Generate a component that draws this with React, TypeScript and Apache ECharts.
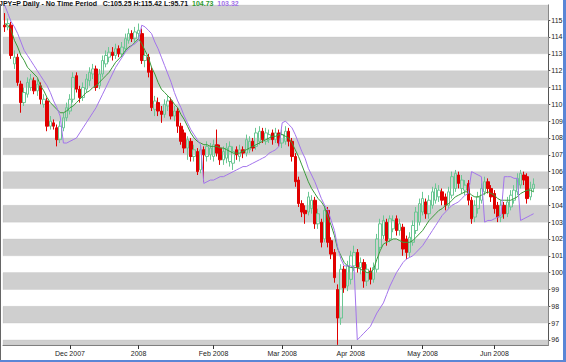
import React, { useEffect, useRef } from "react";
import * as echarts from "echarts";

// ---- data -------------------------------------------------------------
const startDate = "2007-11-05"; // first trading day shown
const categoryCount = 167; // trading-day slots on the axis (last few empty)

// [open, close, low, high]
const candles: number[][] = [
  [114.7, 114.6, 114.3, 115.42], [114.6, 114.8, 114.4, 115.1], [114.7, 112.9, 112.7, 114.9], [112.4, 112.8, 112.1, 113.2], [112.8, 111.3, 111.1, 113.0],
  [111.2, 110.1, 109.5, 111.4], [110.1, 110.7, 109.9, 111.0], [110.6, 111.3, 110.4, 111.6], [111.0, 111.5, 110.8, 111.8], [111.4, 110.8, 110.6, 111.6],
  [110.8, 111.2, 110.5, 111.5], [111.1, 110.3, 110.0, 111.3], [110.0, 110.3, 109.8, 110.6], [110.2, 108.7, 108.4, 110.4], [108.7, 109.0, 108.5, 109.3],
  [108.9, 108.7, 108.5, 109.1], [108.6, 107.9, 107.5, 108.8], [107.9, 108.7, 107.7, 109.0], [108.6, 109.2, 108.4, 109.5], [109.2, 109.8, 109.0, 110.1],
  [109.6, 110.3, 109.4, 110.6], [110.3, 111.6, 110.1, 111.9], [111.7, 110.9, 110.7, 111.9], [110.9, 110.4, 110.1, 111.1], [110.4, 111.0, 110.2, 111.3],
  [110.9, 111.5, 110.7, 111.8], [111.4, 111.9, 111.1, 112.2], [111.8, 112.1, 111.5, 112.4], [112.1, 111.0, 110.8, 112.3], [111.1, 111.8, 110.9, 112.1],
  [111.8, 112.6, 111.6, 112.9], [112.4, 112.9, 112.2, 113.2], [112.8, 113.1, 112.5, 113.4], [113.1, 112.9, 112.6, 113.4], [112.9, 113.3, 112.7, 113.6],
  [113.3, 113.0, 112.8, 113.5], [113.0, 113.4, 112.8, 113.7], [113.3, 113.9, 113.1, 114.2], [113.8, 114.2, 113.6, 114.5], [114.2, 113.9, 113.7, 114.4],
  [113.9, 114.3, 113.7, 114.6], [114.2, 114.4, 113.9, 114.8], [114.2, 112.6, 112.4, 114.5], [112.6, 112.9, 112.2, 113.2], [112.8, 111.9, 111.6, 113.0],
  [112.0, 109.8, 109.6, 112.2], [109.7, 110.2, 109.3, 110.5], [110.1, 109.6, 109.3, 110.4], [109.6, 109.4, 108.9, 109.9], [109.4, 110.0, 109.2, 110.3],
  [109.9, 110.2, 109.6, 110.5], [110.2, 109.3, 109.1, 110.4], [109.3, 109.6, 109.0, 109.9], [109.6, 108.7, 108.3, 109.8], [108.7, 107.8, 107.6, 108.9],
  [108.3, 107.4, 107.1, 108.5], [107.4, 107.9, 106.7, 108.1], [107.8, 106.9, 106.6, 108.0], [106.9, 107.3, 106.6, 107.6], [107.2, 106.0, 105.8, 107.4],
  [106.1, 107.3, 105.9, 107.6], [107.3, 107.0, 105.4, 107.5], [106.9, 107.5, 106.6, 107.8], [107.0, 107.4, 106.7, 107.7], [106.9, 107.6, 106.6, 107.9],
  [107.6, 107.1, 106.9, 108.5], [107.4, 106.7, 106.4, 107.6], [106.7, 107.2, 106.4, 107.5], [106.8, 107.4, 106.5, 107.7], [106.6, 107.5, 106.3, 107.8],
  [106.5, 107.2, 106.1, 107.5], [107.3, 107.0, 106.7, 107.5], [106.9, 107.3, 106.6, 107.6], [107.3, 107.1, 106.8, 107.5], [107.1, 107.9, 106.9, 108.2],
  [107.3, 107.8, 107.1, 108.1], [107.8, 107.4, 107.2, 108.0], [107.5, 108.3, 107.3, 108.6], [107.8, 108.4, 107.6, 108.7], [108.4, 107.9, 107.7, 108.6],
  [107.8, 108.3, 107.6, 108.6], [107.9, 108.2, 107.7, 108.5], [108.3, 107.9, 107.6, 108.5], [107.9, 108.3, 107.7, 108.6], [108.3, 107.7, 107.5, 108.5],
  [107.7, 108.2, 107.4, 108.5], [107.8, 108.4, 107.6, 108.7], [108.4, 107.8, 107.5, 108.6], [107.8, 106.9, 106.6, 108.0], [106.9, 105.4, 105.1, 107.1],
  [105.5, 104.1, 103.9, 105.7], [104.1, 103.6, 103.3, 104.3], [103.7, 103.5, 102.9, 104.0], [103.6, 104.5, 103.4, 104.8], [103.8, 104.3, 103.5, 104.6],
  [104.3, 102.9, 102.6, 104.5], [102.9, 103.5, 102.6, 103.8], [103.0, 101.8, 101.5, 103.2], [102.0, 103.7, 101.8, 104.0], [103.7, 101.8, 101.5, 103.9],
  [101.9, 101.1, 100.8, 102.1], [101.2, 99.7, 99.4, 101.4], [99.0, 97.3, 95.71, 99.3], [97.3, 100.2, 96.9, 100.5], [100.2, 99.1, 98.8, 100.4],
  [99.2, 100.4, 98.9, 100.7], [99.6, 101.0, 99.3, 101.3], [100.4, 101.2, 100.1, 101.6], [101.2, 100.3, 100.0, 101.4], [100.3, 100.6, 99.9, 100.9],
  [100.6, 99.5, 99.1, 100.8], [99.5, 100.2, 99.2, 100.5], [100.1, 99.6, 99.3, 100.3], [99.6, 100.3, 99.4, 100.6], [100.2, 102.0, 100.0, 102.3],
  [101.5, 102.9, 101.3, 103.2], [102.2, 103.1, 102.0, 103.4], [103.0, 101.9, 101.6, 103.2], [102.0, 103.2, 101.8, 103.4], [102.6, 103.1, 102.4, 103.4],
  [103.2, 102.5, 102.2, 103.4], [102.5, 102.9, 102.2, 103.2], [102.7, 101.4, 101.0, 102.9], [102.0, 101.2, 100.8, 102.2], [101.2, 102.1, 100.9, 102.4],
  [101.8, 102.8, 101.6, 103.1], [102.5, 103.6, 102.3, 103.9], [103.0, 104.1, 102.8, 104.4], [103.6, 104.4, 103.4, 104.8], [104.2, 103.5, 103.2, 104.4],
  [103.5, 104.3, 103.2, 104.6], [104.0, 104.8, 103.8, 105.1], [104.3, 105.0, 104.1, 105.3], [104.5, 104.9, 104.2, 105.2], [104.8, 104.3, 104.0, 105.0],
  [104.5, 104.0, 103.7, 104.7], [104.0, 104.8, 103.8, 105.1], [104.6, 105.7, 104.4, 106.0], [105.0, 105.9, 104.8, 106.1], [105.8, 105.3, 105.0, 106.0],
  [105.0, 105.5, 104.7, 105.8], [104.9, 105.2, 104.6, 105.5], [105.3, 104.3, 104.0, 105.5], [104.3, 103.2, 102.9, 104.5], [103.3, 104.0, 103.0, 104.3],
  [103.8, 104.5, 103.5, 104.8], [104.3, 105.0, 104.1, 105.3], [104.8, 105.4, 104.6, 105.7], [105.4, 105.0, 104.7, 105.6], [105.0, 104.5, 104.2, 105.2],
  [104.7, 103.8, 103.5, 104.9], [104.0, 103.3, 103.0, 104.2], [103.3, 104.0, 103.0, 104.3], [104.0, 103.5, 103.2, 104.2], [103.5, 104.2, 103.3, 104.5],
  [103.9, 104.6, 103.7, 104.9], [104.3, 104.9, 104.1, 105.2], [104.8, 105.6, 104.6, 105.9], [105.2, 105.9, 105.0, 106.1], [105.8, 105.5, 105.2, 106.0],
  [105.7, 104.4, 104.1, 105.9], [104.5, 105.0, 104.3, 105.4], [105.0, 105.25, 104.8, 105.6],
];

// green moving average
const maLine: number[] = [
  114.8, 114.7, 114.4, 113.8, 113.4, 112.9, 112.6, 112.2, 112.0, 111.8,
  111.6, 111.1, 110.8, 110.4, 110.1, 109.9, 109.7, 109.5, 109.5, 109.6,
  109.8, 109.9, 110.1, 110.3, 110.5, 110.7, 110.8, 111.0, 111.1, 111.3,
  111.5, 111.7, 111.9, 112.2, 112.5, 112.7, 112.9, 113.2, 113.4, 113.5,
  113.7, 113.9, 113.6, 113.2, 112.8, 112.2, 111.8, 111.3, 110.9, 110.7,
  110.5, 110.3, 110.0, 109.8, 109.4, 109.1, 108.7, 108.3, 108.0, 107.8,
  107.7, 107.6, 107.6, 107.5, 107.5, 107.5, 107.4, 107.4, 107.3, 107.2,
  107.1, 107.1, 107.1, 107.2, 107.3, 107.4, 107.5, 107.6, 107.7, 107.8,
  107.9, 108.0, 108.1, 108.1, 108.2, 108.2, 108.1, 108.0, 107.7, 107.3,
  106.9, 106.4, 105.9, 105.4, 105.0, 104.7, 104.4, 104.2, 103.9, 103.3,
  102.8, 102.2, 101.4, 101.0, 100.6, 100.4, 100.3, 100.3, 100.3, 100.2,
  100.1, 100.0, 100.0, 100.2, 100.8, 101.3, 101.7, 101.8, 101.9, 102.0,
  102.0, 101.9, 101.8, 101.8, 101.8, 101.9, 102.1, 102.3, 102.5, 102.8,
  103.1, 103.3, 103.5, 103.7, 103.8, 104.0, 104.1, 104.3, 104.5, 104.6,
  104.7, 104.8, 104.8, 104.6, 104.5, 104.5, 104.6, 104.7, 104.8, 104.7,
  104.6, 104.4, 104.3, 104.3, 104.3, 104.3, 104.4, 104.5, 104.7, 104.8,
  104.9, 104.9, 104.8,
];

// purple trailing stop line
const stopLine: number[] = [
  115.9, 115.4, 114.9, 114.6, 114.2, 113.7, 113.2, 112.9, 112.6, 112.3,
  112.0, 111.7, 111.4, 111.1, 110.7, 110.2, 109.8, 109.3, 107.7, 107.7,
  107.8, 107.9, 108.0, 108.3, 108.6, 108.9, 109.2, 109.5, 109.8, 110.2,
  110.6, 111.0, 111.4, 111.8, 112.2, 112.5, 112.8, 113.1, 113.3, 113.5,
  113.6, 113.8, 114.7, 114.6, 114.4, 114.2, 113.7, 113.3, 112.8, 112.3,
  111.8, 111.3, 110.7, 110.2, 109.8, 109.3, 108.9, 108.5, 108.2, 107.9,
  107.6, 105.3, 105.4, 105.5, 105.5, 105.6, 105.7, 105.7, 105.8, 105.9,
  106.0, 106.1, 106.2, 106.3, 106.3, 106.4, 106.5, 106.6, 106.7, 106.8,
  106.9, 107.1, 107.2, 107.3, 107.5, 108.9, 109.0, 108.8, 108.6, 108.2,
  107.7, 107.2, 106.8, 106.2, 105.8, 105.4, 104.9, 104.4, 104.0, 103.7,
  103.1, 102.5, 101.5, 100.8, 100.4, 100.4, 100.4, 100.3, 96.0, 96.2,
  96.4, 96.6, 96.8, 97.2, 97.6, 97.9, 98.2, 98.7, 99.2, 99.6,
  100.0, 100.3, 100.6, 100.8, 100.9, 101.0, 101.2, 101.4, 101.6, 101.9,
  102.2, 102.5, 102.8, 103.1, 103.4, 103.6, 103.8, 104.0, 104.1, 104.2,
  104.4, 104.6, 104.7, 106.0, 105.9, 105.8, 105.7, 103.0, 103.1, 103.1,
  103.2, 103.3, 103.4, 105.7, 105.7, 105.7, 105.6, 105.6, 103.1, 103.2,
  103.3, 103.4, 103.5,
];

const yMin = 95.7;
const yMax = 115.9;
const bandLows = [95, 97, 99, 101, 103, 105, 107, 109, 111, 113, 115];

const titleMain = "JPY=P Daily - No Time Period   C:105.25 H:115.42 L:95.71";
const titleMa = "104.73";
const titleStop = "103.32";
const monthNames = ["Jan", "Feb", "Mar", "Apr", "May", "Jun", "Jul", "Aug", "Sep", "Oct", "Nov", "Dec"];

// ---- helpers ----------------------------------------------------------
function buildDates(): string[] {
  const out: string[] = [];
  const d = new Date(startDate + "T00:00:00Z");
  while (out.length < categoryCount) {
    const wd = d.getUTCDay();
    if (wd !== 0 && wd !== 6) out.push(d.toISOString().slice(0, 10));
    d.setUTCDate(d.getUTCDate() + 1);
  }
  return out;
}

const FONT = "Liberation Sans, Arial, sans-serif";

export default function App() {
  const ref = useRef<HTMLDivElement>(null);

  useEffect(() => {
    if (!ref.current) return;
    const chart = echarts.init(ref.current, undefined, { renderer: "svg" });
    const dates = buildDates();
    const isMonthStart = (i: number) => i > 0 && dates[i].slice(5, 7) !== dates[i - 1].slice(5, 7);
    const fmtMonth = (v: string) => {
      const m = parseInt(v.slice(5, 7), 10);
      const y = v.slice(0, 4);
      return m === 1 ? y : `${monthNames[m - 1]} ${y}`;
    };

    const bands = bandLows.map((lo) => [
      { yAxis: Math.max(lo, yMin) },
      { yAxis: Math.min(lo + 1, yMax) },
    ]);

    chart.setOption({
      animation: false,
      backgroundColor: "#ffffff",
      title: {
        text: `{a|${titleMain}}  {g|${titleMa}}  {p|${titleStop}}`,
        left: -1,
        top: 0,
        padding: 0,
        textStyle: {
          fontSize: 7,
          fontFamily: FONT,
          rich: {
            a: { color: "#111", fontSize: 7, fontFamily: FONT },
            g: { color: "#2e9a2e", fontSize: 7, fontFamily: FONT },
            p: { color: "#a070e8", fontSize: 7, fontFamily: FONT },
          },
        },
      },
      grid: { left: 3, right: 15, top: 5, bottom: 17, containLabel: false },
      xAxis: [
        {
          type: "category",
          data: dates,
          boundaryGap: true,
          axisLine: { show: true, lineStyle: { color: "#777", width: 1 } },
          axisTick: {
            show: true,
            interval: (i: number) => isMonthStart(i),
            length: 4,
            alignWithLabel: true,
            lineStyle: { color: "#333" },
          },
          axisLabel: {
            interval: (i: number) => isMonthStart(i),
            formatter: (v: string) => fmtMonth(v),
            fontSize: 7,
            fontFamily: FONT,
            color: "#222",
            margin: 5,
          },
          splitLine: { show: false },
        },
        {
          type: "category",
          data: dates,
          boundaryGap: true,
          position: "bottom",
          axisLine: { show: false },
          axisTick: { show: true, interval: 0, length: 2, inside: true, alignWithLabel: true, lineStyle: { color: "#999" } },
          axisLabel: { show: false },
          splitLine: { show: false },
        },
      ],
      yAxis: {
        type: "value",
        position: "right",
        min: yMin,
        max: yMax,
        splitNumber: 20,
        scale: true,
        axisLine: { show: true, lineStyle: { color: "#555" } },
        axisTick: { show: true, length: 2, lineStyle: { color: "#555" } },
        axisLabel: {
          showMinLabel: false,
          showMaxLabel: false,
          fontSize: 7,
          fontFamily: FONT,
          color: "#222",
          margin: 3,
          formatter: (v: number) => (Math.abs(v - Math.round(v)) < 1e-6 ? String(Math.round(v)) : ""),
        },
        splitLine: { show: false },
      },
      series: [
        {
          type: "candlestick",
          data: candles,
          barWidth: 3,
          z: 3,
          itemStyle: {
            color: "rgba(255,255,255,0)",
            color0: "#e00000",
            borderColor: "#6cc794",
            borderColor0: "#e00000",
            borderWidth: 1,
          },
          markArea: {
            silent: true,
            z: 1,
            itemStyle: { color: "#cfcfcf", borderColor: "#b8b8b8", borderWidth: 0.5, borderType: "dotted" },
            data: bands,
          },
        },
        {
          type: "line",
          data: maLine,
          symbol: "none",
          z: 4,
          lineStyle: { color: "#3a9a3a", width: 1 },
        },
        {
          type: "line",
          data: stopLine,
          symbol: "none",
          z: 4,
          lineStyle: { color: "#a374ec", width: 1 },
        },
      ],
      graphic: [
        { type: "rect", left: 0, top: 4, shape: { width: 1, height: 358 }, style: { fill: "#666" }, z: 10 },
        { type: "rect", left: 563, top: 0, shape: { width: 3, height: 362 }, style: { fill: "#5a86d6" }, z: 10 },
        { type: "rect", left: 0, top: 360, shape: { width: 566, height: 2 }, style: { fill: "#5a86d6" }, z: 10 },
      ],
    });

    return () => chart.dispose();
  }, []);

  return <div ref={ref} style={{ width: 566, height: 362, position: "absolute", left: 0, top: 0 }} />;
}
